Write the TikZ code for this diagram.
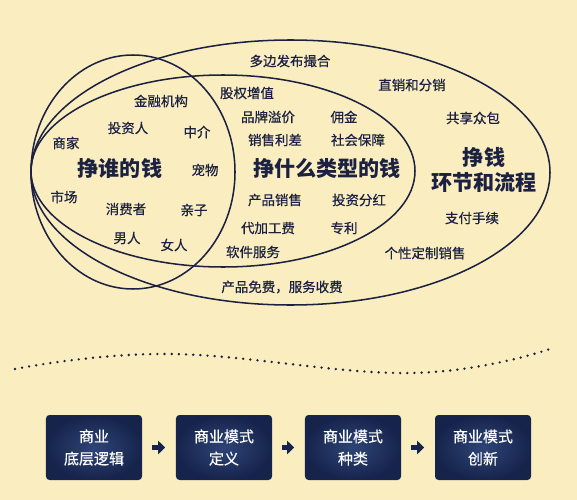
\documentclass[tikz,border=0pt]{standalone}
\usepackage{fontspec}
\setmainfont{Noto Sans CJK SC}
\newfontfamily\medfont[FakeBold=0.5]{Noto Sans CJK SC}
\usepackage{tikz}
\usetikzlibrary{arrows.meta}
\definecolor{bgcream}{HTML}{FAEEC0}
\definecolor{inkblue}{HTML}{1C2142}
\definecolor{boxinner}{HTML}{2E4476}
\definecolor{boxouter}{HTML}{16244C}
\tikzset{
  lbl/.style={text=inkblue, font=\medfont\fontsize{11.5}{13}\selectfont, inner sep=0pt},
  biglbl/.style={text=inkblue, font=\fontsize{18}{21}\selectfont\bfseries, inner sep=0pt, align=center},
  ring/.style={draw=inkblue, line width=1.3pt},
  stagebox/.style={rounded corners=3pt, minimum width=2.88cm, minimum height=1.95cm,
    inner color=boxinner, outer color=boxouter, text=white, align=center,
    font=\medfont\fontsize{12.8}{19}\selectfont},
  stagearrow/.style={draw=boxouter, line width=0.16cm, -{Triangle[length=0.21cm,width=0.4cm]},
    shorten <=0.29cm, shorten >=0.32cm}
}

\begin{document}
\begin{tikzpicture}[x=0.03cm,y=-0.03cm]
			\fill[bgcream] (0,0) rectangle (577,500);
			% three rings
			\draw[ring] (133,172) ellipse [x radius=102, y radius=117];
			\draw[ring] (223,171) ellipse [x radius=192, y radius=96];
			\draw[ring] (290.5,172.5) ellipse [x radius=259.5, y radius=132.5];
			% who
			\node[biglbl] (who) at (120,168) {挣谁的钱};
			\node[lbl] (jr) at (161,101) {金融机构};
			\node[lbl] (tzr) at (128,128) {投资人};
			\node[lbl] (zj) at (197,132) {中介};
			\node[lbl] (sj) at (66,143) {商家};
			\node[lbl] (cw) at (205,170) {宠物};
			\node[lbl] (sc) at (64,197) {市场};
			\node[lbl] (xfz) at (126,209) {消费者};
			\node[lbl] (qz) at (194,210) {亲子};
			\node[lbl] (nr) at (127,238) {男人};
			\node[lbl] (nv) at (174,245) {女人};
			% what type
			\node[biglbl] (what) at (327,168) {挣什么类型的钱};
			\node[lbl] (gq) at (247,93) {股权增值};
			\node[lbl] (pp) at (268,117) {品牌溢价};
			\node[lbl] (yj) at (344,117) {佣金};
			\node[lbl] (xs) at (275,140) {销售利差};
			\node[lbl] (sh) at (358,140) {社会保障};
			\node[lbl] (cp) at (275,200) {产品销售};
			\node[lbl] (fh) at (359,200) {投资分红};
			\node[lbl] (dj) at (268,228) {代加工费};
			\node[lbl] (zl) at (344,228) {专利};
			\node[lbl] (rj) at (253,252) {软件服务};
			% how
			\node[biglbl] (how) at (484,170) {挣钱\\环节和流程};
			\node[lbl] (db) at (290,61) {多边发布撮合};
			\node[lbl] (zx) at (412,85) {直销和分销};
			\node[lbl] (gx) at (473,118) {共享众包};
			\node[lbl] (zf) at (472,218) {支付手续};
			\node[lbl] (gxh) at (425,253) {个性定制销售};
			\node[lbl] (mf) at (282,287) {产品免费，服务收费};
			% divider
			\draw[inkblue, line width=0.08cm, line cap=round, dash pattern=on 0pt off 0.215cm]
			  plot[smooth, tension=0.7] coordinates {(15,369) (170,354) (410,373) (550,349)};
			% stages
			\node[stagebox] (s1) at (94,447.5) {商业\\底层逻辑};
			\node[stagebox] (s2) at (224,447.5) {商业模式\\定义};
			\node[stagebox] (s3) at (353,447.5) {商业模式\\种类};
			\node[stagebox] (s4) at (483,447.5) {商业模式\\创新};
			\foreach \a/\b in {s1/s2,s2/s3,s3/s4}
			  \draw[stagearrow] (\a) -- (\b);
		\end{tikzpicture}
\end{document}
